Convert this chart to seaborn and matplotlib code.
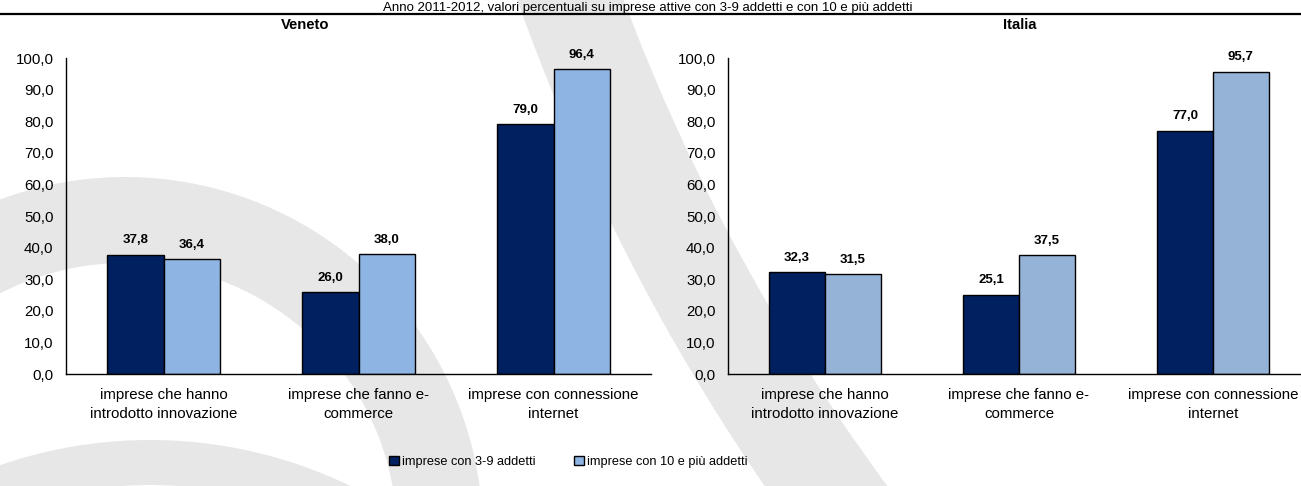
import matplotlib

matplotlib.use("Agg")
import matplotlib.pyplot as plt
import pandas as pd
import seaborn as sns
from matplotlib.lines import Line2D
from matplotlib.patches import Patch, Wedge
from matplotlib.ticker import FixedLocator, FuncFormatter

# dati (valori percentuali)
categorie = [
    "imprese che hanno\nintrodotto innovazione",
    "imprese che fanno e-\ncommerce",
    "imprese con connessione\ninternet",
]
classi = ["imprese con 3-9 addetti", "imprese con 10 e più addetti"]
veneto_3_9 = [37.8, 26.0, 79.0]
veneto_10_piu = [36.4, 38.0, 96.4]
italia_3_9 = [32.3, 25.1, 77.0]
italia_10_piu = [31.5, 37.5, 95.7]
titolo = "Anno 2011-2012, valori percentuali su imprese attive con 3-9 addetti e con 10 e più addetti"

BLU = "#002060"
AZZURRO_VENETO = "#8DB4E2"
AZZURRO_ITALIA = "#95B3D7"
GRIGIO = "#E7E7E7"

W, H = 1301, 486


def tabella(piccole, grandi):
    righe = []
    for cat, v in zip(categorie, piccole):
        righe.append({"categoria": cat, "classe": classi[0], "valore": v})
    for cat, v in zip(categorie, grandi):
        righe.append({"categoria": cat, "classe": classi[1], "valore": v})
    return pd.DataFrame(righe)


def virgola(v, pos=None):
    return f"{v:.1f}".replace(".", ",")


def pannello(ax, frame, colori):
    sns.barplot(
        data=frame,
        x="categoria",
        y="valore",
        hue="classe",
        order=categorie,
        hue_order=classi,
        palette=colori,
        width=0.575,
        saturation=1,
        edgecolor="black",
        linewidth=1,
        legend=False,
        ax=ax,
    )
    for cont in ax.containers:
        ax.bar_label(
            cont,
            labels=[virgola(v) for v in cont.datavalues],
            padding=6,
            fontsize=9.5,
            fontweight="bold",
        )
    ax.set_facecolor("none")
    ax.set_xlim(-0.5, len(categorie) - 0.5)
    ax.set_ylim(0, 100)
    ax.yaxis.set_major_locator(FixedLocator(range(0, 101, 10)))
    ax.yaxis.set_major_formatter(FuncFormatter(virgola))
    ax.xaxis.set_major_locator(FixedLocator([-0.5, 0.5, 1.5, 2.5]))
    ax.xaxis.set_major_formatter(FuncFormatter(lambda v, p: ""))
    ax.xaxis.set_minor_locator(FixedLocator(range(len(categorie))))
    ax.set_xticklabels(categorie, minor=True, linespacing=1.45)
    ax.tick_params(axis="x", which="major", direction="out", length=5, width=1, color="black")
    ax.tick_params(axis="x", which="minor", length=0, pad=10, labelsize=10.8)
    ax.tick_params(axis="y", direction="out", length=5, width=1, color="black", labelsize=10.8, pad=4)
    ax.set_xlabel("")
    ax.set_ylabel("")
    for s in ["top", "right"]:
        ax.spines[s].set_visible(False)
    for s in ["left", "bottom"]:
        ax.spines[s].set_color("black")
        ax.spines[s].set_linewidth(1)


def filigrana(fig):
    # fasce grigie chiare del logo sullo sfondo
    bg = fig.add_axes([0, 0, 1, 1], zorder=-1)
    bg.set_xlim(0, W)
    bg.set_ylim(H, 0)
    bg.axis("off")
    bg.add_patch(Wedge((125, 535), 358, -135, 5, width=86, color=GRIGIO, lw=0))
    bg.add_patch(Wedge((2494, -700), 2097, 140, 165, width=100, color=GRIGIO, lw=0))
    bg.add_patch(Wedge((150, 900), 460, -150, -30, width=45, color=GRIGIO, lw=0))


def main():
    sns.set_theme(style="white")
    plt.rcParams["font.family"] = ["Liberation Sans", "DejaVu Sans"]
    plt.rcParams["text.color"] = "black"
    plt.rcParams["xtick.color"] = "black"
    plt.rcParams["ytick.color"] = "black"

    fig = plt.figure(figsize=(W / 100, H / 100), dpi=100)
    fig.patch.set_facecolor("white")
    filigrana(fig)

    ax1 = fig.add_axes([66 / W, 1 - 374 / H, 585 / W, 316 / H])
    ax2 = fig.add_axes([728 / W, 1 - 374 / H, 582 / W, 316 / H])
    pannello(ax1, tabella(veneto_3_9, veneto_10_piu), [BLU, AZZURRO_VENETO])
    pannello(ax2, tabella(italia_3_9, italia_10_piu), [BLU, AZZURRO_ITALIA])

    fig.text(305 / W, 1 - 25 / H, "Veneto", ha="center", va="center", fontsize=10.7, fontweight="bold")
    fig.text(1020 / W, 1 - 25 / H, "Italia", ha="center", va="center", fontsize=10.7, fontweight="bold")

    fig.text(648 / W, 1 - 10.5 / H, titolo, ha="center", va="baseline", fontsize=9.5)
    fig.add_artist(
        Line2D([0, 1], [1 - 14.5 / H] * 2, transform=fig.transFigure, color="black", linewidth=1.6)
    )

    maniglie = [
        Patch(facecolor=BLU, edgecolor="black", linewidth=1, label=classi[0]),
        Patch(facecolor=AZZURRO_VENETO, edgecolor="black", linewidth=1, label=classi[1]),
    ]
    fig.legend(
        handles=maniglie,
        loc="center",
        bbox_to_anchor=(568 / W, 1 - 462 / H),
        ncol=2,
        frameon=False,
        fontsize=9.2,
        handlelength=0.78,
        handleheight=0.78,
        handletextpad=0.25,
        columnspacing=3.0,
    )

    fig.savefig("out.png", dpi=100)


if __name__ == "__main__":
    main()
